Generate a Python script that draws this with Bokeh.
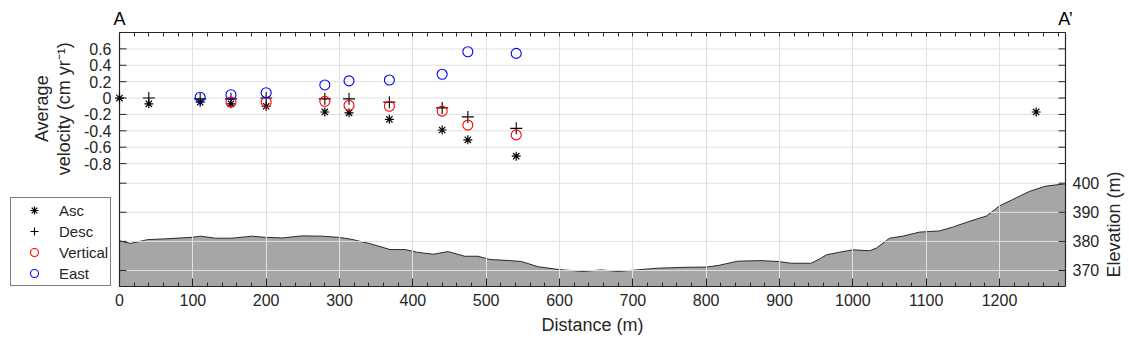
import math
from bokeh.plotting import figure
from bokeh.models import (LinearAxis, Range1d, FixedTicker, Grid, Legend, LegendItem, Title)
from bokeh.core.properties import value
from bokeh.embed import file_html
from bokeh.resources import INLINE

# ---- data ----
dist_asc = [0, 40, 110, 152, 200, 280, 313, 368, 440, 475, 541, 1250]
vel_asc = [0, -0.07, -0.05, -0.07, -0.10, -0.17, -0.18, -0.26, -0.39, -0.51, -0.71, -0.17]
dist_desc = [40, 110, 152, 200, 280, 313, 368, 440, 475, 541]
vel_desc = [0.0, -0.01, -0.01, 0.0, -0.01, -0.01, -0.05, -0.12, -0.23, -0.37]
dist_vert = [152, 200, 280, 313, 368, 440, 475, 541]
vel_vert = [-0.05, -0.05, -0.04, -0.09, -0.10, -0.16, -0.33, -0.45]
dist_east = [110, 152, 200, 280, 313, 368, 440, 475, 541]
vel_east = [0.01, 0.04, 0.065, 0.16, 0.21, 0.22, 0.29, 0.565, 0.545]

profile_dist = [0, 15, 38, 63, 99, 110, 131, 153, 181, 199, 222, 249, 276, 299, 315, 342,
                369, 390, 405, 428, 448, 471, 489, 505, 532, 548, 571, 600, 632, 657, 680,
                700, 734, 771, 800, 816, 843, 875, 898, 916, 943, 955, 964, 982, 1000, 1023,
                1032, 1050, 1068, 1091, 1118, 1136, 1159, 1182, 1200, 1218, 1241, 1263, 1290]
profile_elev = [380.2, 379.3, 380.6, 380.9, 381.4, 381.8, 381.1, 381.1, 381.8, 381.4, 381.2,
                381.9, 381.8, 381.4, 380.8, 379.2, 377.2, 377.2, 376.3, 375.6, 376.5, 374.9,
                374.9, 373.8, 373.4, 373.1, 371.3, 370.3, 369.7, 370.2, 369.7, 370.1, 370.8,
                371.1, 371.2, 371.7, 373.2, 373.4, 373.1, 372.5, 372.5, 374.0, 375.4, 376.3,
                377.1, 376.8, 377.7, 381.1, 381.8, 383.2, 383.6, 384.9, 386.9, 388.7, 392.2,
                394.4, 397.2, 399.0, 399.8]

vel_ticks = [-0.8, -0.6, -0.4, -0.2, 0, 0.2, 0.4, 0.6]
vel_labels = ["-0.8", "-0.6", "-0.4", "-0.2", "0", "0.2", "0.4", "0.6"]
elev_ticks = [370, 380, 390, 400]
elev_labels = ["370", "380", "390", "400"]
x_ticks = list(range(0, 1300, 100))
x_minor = list(range(0, 1300, 20))
end_labels = ["A", "A\u2019"]

# ---- layout constants ----
FONT = "Liberation Sans"
TXT = "#262626"
W, H = 1129, 343
DATA_LEFT_PX, DATA_RIGHT_PX = 119, 1065   # pixel columns of distance 0 and of the right box edge
MT, MB = 32, 57
XLABEL_W = 102                            # approx. rendered width of the x-axis label

x0, x1 = 0, 1290
px_per_m = (DATA_RIGHT_PX - DATA_LEFT_PX) / (x1 - x0)
x_start = x0 - DATA_LEFT_PX / px_per_m
x_end = x1 + (W - DATA_RIGHT_PX) / px_per_m
v0, v1 = -2.3, 0.8
e0, e1 = 364.5, 451.8
tick_len = 7 / px_per_m

p = figure(width=W, height=H, output_backend="svg", toolbar_location=None,
           x_axis_type=None, y_axis_type=None,
           x_range=Range1d(x_start, x_end), y_range=Range1d(v0, v1),
           min_border_left=0, min_border_right=0, min_border_top=MT, min_border_bottom=MB,
           outline_line_color=None)
p.extra_y_ranges = {"elev": Range1d(e0, e1)}

# elevation profile
p.varea(x=profile_dist, y1=[e0] * len(profile_dist), y2=profile_elev, y_range_name="elev",
        fill_color="#a6a6a6", level="underlay")
p.line(x=profile_dist, y=profile_elev, y_range_name="elev", line_color="black",
       line_width=0.8, level="underlay")

# grids drawn over the profile
grid_color = "#e0e0e0"
p.add_layout(Grid(dimension=0, ticker=FixedTicker(ticks=x_ticks), grid_line_color=grid_color))
p.segment(x0=[x0] * len(vel_ticks), x1=[x1] * len(vel_ticks), y0=vel_ticks, y1=vel_ticks,
          line_color=grid_color, line_width=1, level="underlay")
p.segment(x0=[x0] * len(elev_ticks), x1=[x1] * len(elev_ticks), y0=elev_ticks, y1=elev_ticks,
          y_range_name="elev", line_color=grid_color, line_width=1, level="underlay")

def style_axis(ax, fs="16px"):
    ax.major_label_text_font = FONT
    ax.major_label_text_font_size = fs
    ax.major_label_text_color = TXT
    ax.axis_line_color = TXT
    ax.major_tick_line_color = TXT
    ax.minor_tick_line_color = TXT
    ax.major_tick_out = 0
    ax.minor_tick_out = 0

bottom = LinearAxis(ticker=FixedTicker(ticks=x_ticks, minor_ticks=x_minor), bounds=(x0, x1))
style_axis(bottom)
bottom.major_tick_in = 8
bottom.minor_tick_in = 4
bottom.major_label_standoff = 7
p.add_layout(bottom, "below")

# x-axis label centred under the data area (not under the whole frame)
xlabel = Title(text="Distance (m)", align="left",
               offset=(DATA_LEFT_PX + DATA_RIGHT_PX) / 2 - XLABEL_W / 2,
               text_font=FONT, text_font_size="18px", text_font_style="normal",
               text_color=TXT, standoff=9)
p.add_layout(xlabel, "below")

top = LinearAxis(ticker=FixedTicker(ticks=[x0, x1], minor_ticks=x_minor), bounds=(x0, x1),
                 major_label_overrides={x0: end_labels[0], x1: end_labels[1]})
style_axis(top, fs="18px")
top.major_label_text_color = "black"
top.major_tick_in = 4
top.minor_tick_in = 4
top.major_label_standoff = 4
p.add_layout(top, "above")

# hand-drawn left (velocity) and right (elevation) axes
p.segment(x0=[x0, x1], x1=[x0, x1], y0=[v0, v0], y1=[v1, v1], line_color=TXT, line_width=1.2)
p.segment(x0=[x0] * len(vel_ticks), x1=[x0 + tick_len] * len(vel_ticks), y0=vel_ticks, y1=vel_ticks,
          line_color=TXT, line_width=1)
p.segment(x0=[x1 - tick_len] * len(vel_ticks), x1=[x1] * len(vel_ticks), y0=vel_ticks, y1=vel_ticks,
          line_color=TXT, line_width=1)
p.segment(x0=[x0] * len(elev_ticks), x1=[x0 + tick_len] * len(elev_ticks), y0=elev_ticks,
          y1=elev_ticks, y_range_name="elev", line_color=TXT, line_width=1)
p.segment(x0=[x1 - tick_len] * len(elev_ticks), x1=[x1] * len(elev_ticks), y0=elev_ticks,
          y1=elev_ticks, y_range_name="elev", line_color=TXT, line_width=1)
p.text(x=[x0] * len(vel_ticks), y=vel_ticks, text=vel_labels, x_offset=-8, text_align="right",
       text_baseline="middle", text_font=value(FONT), text_font_size="16px", text_color=TXT)
p.text(x=[x1] * len(elev_ticks), y=elev_ticks, text=elev_labels, x_offset=7, text_align="left",
       text_baseline="middle", text_font=value(FONT), text_font_size="16px", text_color=TXT,
       y_range_name="elev")
p.text(x=[x0], y=[-0.13], text=["Average\nvelocity (cm yr\u207b\u00b9)"], angle=math.pi / 2,
       x_offset=-67, text_align="center", text_baseline="middle", text_line_height=1.1,
       text_font=value(FONT), text_font_size="18px", text_color=TXT)
p.text(x=[x1], y=[385.8], text=["Elevation (m)"], angle=math.pi / 2, y_range_name="elev",
       x_offset=48, text_align="center", text_baseline="middle",
       text_font=value(FONT), text_font_size="18px", text_color=TXT)

# data markers
r_asc = p.scatter(dist_asc, vel_asc, marker="asterisk", size=9, line_color="black", line_width=1.2)
r_desc = p.scatter(dist_desc, vel_desc, marker="cross", size=12, line_color="black", line_width=1.1)
r_vert = p.scatter(dist_vert, vel_vert, marker="circle", size=10, line_color="#ff0000",
                   fill_color=None, line_width=1.1)
r_east = p.scatter(dist_east, vel_east, marker="circle", size=10, line_color="#0000ff",
                   fill_color=None, line_width=1.1)

legend = Legend(items=[LegendItem(label="Asc", renderers=[r_asc]),
                       LegendItem(label="Desc", renderers=[r_desc]),
                       LegendItem(label="Vertical", renderers=[r_vert]),
                       LegendItem(label="East", renderers=[r_east])],
                location=(10, 0), label_text_font=FONT, label_text_font_size="15px",
                label_text_color=TXT, border_line_color="black", border_line_width=1,
                background_fill_color="white", background_fill_alpha=1,
                padding=2, spacing=1, margin=0, glyph_width=42, glyph_height=20,
                label_height=20, label_standoff=4)
p.add_layout(legend, "center")

open("out.html", "w").write(file_html(p, INLINE))
